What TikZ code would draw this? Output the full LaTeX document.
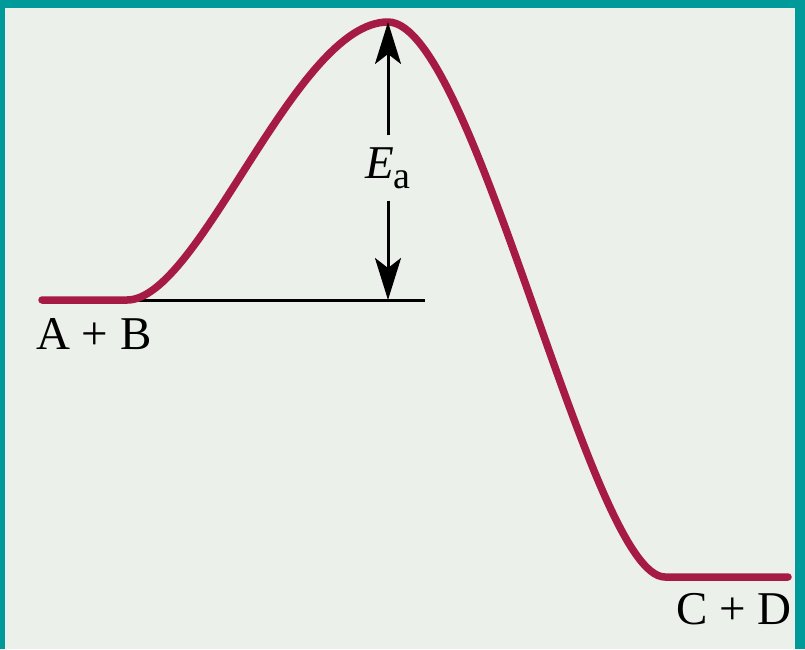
\documentclass[tikz,border=0pt]{standalone}
\usepackage{fontspec}
\setmainfont{Liberation Serif}
\usetikzlibrary{arrows.meta, positioning}

\definecolor{frameteal}{HTML}{009A9A}
\definecolor{paper}{HTML}{EBF0EB}
\definecolor{curvered}{HTML}{A61A46}

\begin{document}
\begin{tikzpicture}[
            x=1pt, y=-1pt,
            energy/.style={draw=curvered, line width=7.5pt, line cap=round, line join=round},
            level/.style={draw=black, line width=3pt},
            gap/.style={draw=black, line width=3pt, -{Stealth[length=42pt, width=26pt, inset=10pt]}},
            lbl/.style={font=\fontsize{47}{52}\selectfont, inner sep=2pt}
        ]
            \useasboundingbox (0,0) rectangle (805,649);
            \fill[frameteal] (0,0) rectangle (805,649);
            \fill[paper] (5,8) rectangle (795,649);

            \coordinate (start) at (42,300);
            \coordinate (rise)  at (127,300);
            \coordinate (peak)  at (388,22);
            \coordinate (low)   at (665,577);
            \coordinate (stop)  at (788,577);
            \coordinate (base)  at (388,300);
            \coordinate (lend)  at (425,300);

            \draw[level] (rise) -- (lend);
            \draw[energy] (start) -- (rise)
                .. controls (200,300) and (295,22) .. (peak)
                .. controls (475,22) and (590,577) .. (low) -- (stop);

            \node[lbl, inner sep=12pt] (ea) at (388,168) {\textit{E}\raisebox{-0.45ex}{\fontsize{38}{42}\selectfont a}};
            \draw[gap] (ea) -- (peak);
            \draw[gap] (ea) -- (base);

            \node[lbl, anchor=north west] (ab) at (34,316) {A + B};
            \node[lbl, anchor=north east] (cd) at (794,591) {C + D};
        \end{tikzpicture}
\end{document}
